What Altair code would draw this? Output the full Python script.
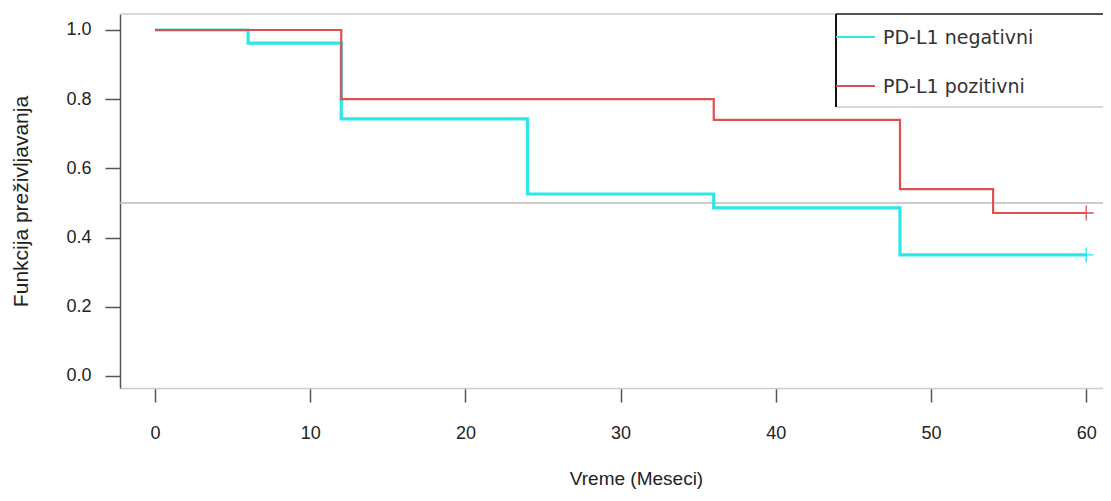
import altair as alt
import pandas as pd

# ---- data ----
series_names = ["PD-L1 negativni", "PD-L1 pozitivni"]
series_colors = ["#2ee6e6", "#dc5252"]
censor_colors = ["#7eeeee", "#e89090"]

neg_times = [0, 6, 12, 24, 36, 48, 60]
neg_surv = [1.0, 0.962, 0.743, 0.526, 0.486, 0.35, 0.35]
pos_times = [0, 12, 36, 48, 54, 60]
pos_surv = [1.0, 0.80, 0.74, 0.54, 0.471, 0.471]

censor_times = [60, 60]
censor_surv = [0.35, 0.471]

x_ticks = [0, 10, 20, 30, 40, 50, 60]
y_ticks = [0.0, 0.2, 0.4, 0.6, 0.8, 1.0]
median_level = [0.5]

x_title = "Vreme (Meseci)"
y_title = "Funkcija preživljavanja"

# ---- tables ----
curves = pd.concat([
    pd.DataFrame({"t": neg_times, "s": neg_surv, "series": series_names[0]}),
    pd.DataFrame({"t": pos_times, "s": pos_surv, "series": series_names[1]}),
], ignore_index=True)
censors = pd.DataFrame({"t": censor_times, "s": censor_surv, "series": series_names})
hline = pd.DataFrame({"s": median_level})

W, H = 983, 374
FONT = "Liberation Sans"

xs = alt.Scale(domain=[-2.255, 61.08], nice=False, zero=False)
ys = alt.Scale(domain=[-0.0347, 1.0462], nice=False, zero=False)

x_axis = alt.Axis(values=x_ticks, title=x_title, grid=False, format="d",
                  domainColor="#cccccc", domainWidth=1.5,
                  tickColor="#555555", tickWidth=1.5, tickSize=14,
                  labelFont=FONT, labelFontSize=18, labelColor="#222222",
                  labelPadding=22, titleFont=FONT, titleFontSize=19,
                  titleFontWeight="normal", titleColor="#222222", titlePadding=27,
                  titleX=516)
y_axis = alt.Axis(values=y_ticks, title=y_title, grid=False, format=".1f",
                  domainColor="#555555", domainWidth=1.5,
                  tickColor="#555555", tickWidth=1.5, tickSize=15,
                  labelFont=FONT, labelFontSize=18, labelColor="#222222",
                  labelPadding=14, titleFont=FONT, titleFontSize=21,
                  titleFontWeight="normal", titleColor="#222222", titlePadding=34)

color = alt.Color("series:N", scale=alt.Scale(domain=series_names, range=series_colors), legend=None)

base_axes = alt.Chart(hline).mark_rule(color="#bbbbbb", strokeWidth=1.5).encode(
    x=alt.value(0), x2=alt.value(W),
    y=alt.Y("s:Q", scale=ys, axis=y_axis),
)

lines = alt.Chart(curves).mark_line(interpolate="step-after").encode(
    x=alt.X("t:Q", scale=xs, axis=x_axis),
    y=alt.Y("s:Q", scale=ys, axis=y_axis),
    color=color,
    size=alt.Size("series:N", scale=alt.Scale(domain=series_names, range=[3.2, 2.2]), legend=None),
    order=alt.Order("t:Q"),
)

marks = alt.Chart(censors).mark_point(
    shape="M-1,0L1,0M0,-1L0,1", size=220, strokeWidth=1.3, filled=False, opacity=1
).encode(
    x=alt.X("t:Q", scale=xs),
    y=alt.Y("s:Q", scale=ys),
    color=alt.Color("series:N", scale=alt.Scale(domain=series_names, range=censor_colors), legend=None),
)

# frame top line
top_line = alt.Chart(hline).mark_rule(color="#cccccc", strokeWidth=1.5).encode(
    x=alt.value(0), x2=alt.value(W), y=alt.value(0))

# legend box
LX, LY2 = 716, 93
leg_bg = alt.Chart(hline).mark_rect(color="white").encode(
    x=alt.value(LX), x2=alt.value(W), y=alt.value(0), y2=alt.value(LY2))
leg_top = alt.Chart(hline).mark_rule(color="#555555", strokeWidth=2).encode(
    x=alt.value(LX), x2=alt.value(W), y=alt.value(0))
leg_bottom = alt.Chart(hline).mark_rule(color="#cccccc", strokeWidth=1.5).encode(
    x=alt.value(LX), x2=alt.value(W), y=alt.value(LY2))
leg_left = alt.Chart(hline).mark_rule(color="#111111", strokeWidth=2).encode(
    x=alt.value(LX), y=alt.value(0), y2=alt.value(LY2))

leg_layers = []
for i, (name, col) in enumerate(zip(series_names, series_colors)):
    yy = 23 + i * 49
    leg_layers.append(alt.Chart(hline).mark_rule(color=col, strokeWidth=2).encode(
        x=alt.value(LX), x2=alt.value(LX + 39), y=alt.value(yy)))
    leg_layers.append(alt.Chart(hline).mark_text(
        align="left", baseline="middle", font="DejaVu Sans", fontSize=19, color="#333333"
    ).encode(x=alt.value(LX + 47), y=alt.value(yy + 1), text=alt.value(name)))

chart = alt.layer(
    base_axes, lines, marks, top_line, leg_bg, leg_top, leg_bottom, leg_left, *leg_layers
).properties(
    width=W, height=H,
    autosize=alt.AutoSizeParams(type="none"),
    padding={"left": 112, "top": 6, "right": 0, "bottom": 105},
    background="white",
).configure_view(stroke=None)

chart.save("out.html", embed_options={"renderer": "svg", "actions": False})
